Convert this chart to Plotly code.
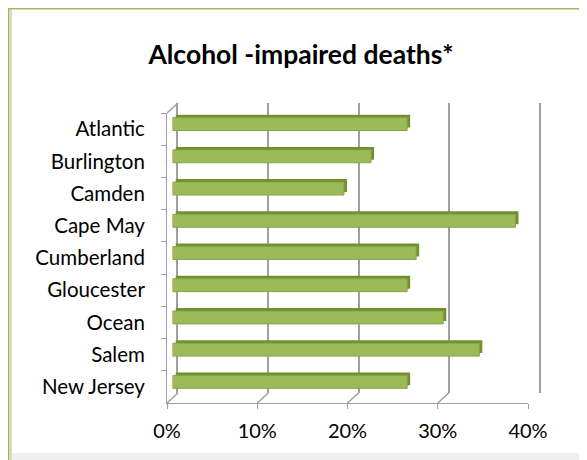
import plotly.graph_objects as go

categories = ["Atlantic", "Burlington", "Camden", "Cape May", "Cumberland",
              "Gloucester", "Ocean", "Salem", "New Jersey"]
values = [0.26, 0.22, 0.19, 0.38, 0.27, 0.26, 0.30, 0.34, 0.26]
tick_vals = [0, 0.1, 0.2, 0.3, 0.4]
tick_text = ["0%", "10%", "20%", "30%", "40%"]
title_text = "<b>Alcohol -impaired deaths*</b>"

OFF = 8  # page body margin
W, H = 587 - OFF, 460 - OFF
ml, mr, mt, mb = 167 - OFF, 40, 103 - OFF, 57
pw = W - ml - mr
ph = H - mt - mb
front_w, front_h = 361, 290
dx, dy = 11, 10
sd = 3  # bar side depth in px
x_max = 0.4

FONT = "Lato"
GREEN = "#9BBB59"
GREEN_DARK = "#71902F"
GRID = "#a0a0a0"


def px_x(p):
    return (p - OFF - ml) / pw


def px_y(p):
    return 1 - (p - OFF - mt) / ph


fig = go.Figure()

# back wall (gridlines) - invisible helper trace
fig.add_trace(go.Bar(x=values, y=categories, orientation="h", xaxis="x2", yaxis="y2",
                     opacity=0, hoverinfo="skip", showlegend=False))
# bar depth (side/top faces) - drawn below the front faces
fig.add_trace(go.Bar(x=values, y=categories, orientation="h", xaxis="x3", yaxis="y3",
                     width=0.4, marker=dict(color=GREEN_DARK, line=dict(width=0)),
                     hoverinfo="skip", showlegend=False))
# bars (front faces)
fig.add_trace(go.Bar(x=values, y=categories, orientation="h", xaxis="x4", yaxis="y4",
                     width=0.4,
                     marker=dict(color=GREEN, line=dict(color="#86A448", width=1)),
                     showlegend=False))
# front axes helper
fig.add_trace(go.Bar(x=values, y=categories, orientation="h", xaxis="x", yaxis="y",
                     opacity=0, hoverinfo="skip", showlegend=False))

common_x = dict(range=[0, x_max], tickvals=tick_vals, zeroline=False, fixedrange=True,
                automargin=False)
hidden_x = dict(**common_x, showgrid=False, showticklabels=False, ticks="", showline=False)
cat_y = dict(categoryorder="array", categoryarray=categories, autorange="reversed",
             automargin=False)
hidden_y = dict(**cat_y, showgrid=False, showticklabels=False, ticks="", showline=False)

fx, fy = dx / 2, dy / 2  # front face of bars at mid depth
dx_data = dx * x_max / front_w

# floor/wall connectors from front axis to back wall
shapes = []
for t in tick_vals:
    shapes.append(dict(type="line", xref="x", yref="paper", x0=t, x1=t + dx_data,
                       y0=0, y1=dy / ph, line=dict(color=GRID, width=1.5)))
shapes.append(dict(type="line", xref="x", yref="paper", x0=0, x1=dx_data,
                   y0=front_h / ph, y1=1, line=dict(color=GRID, width=1.5)))
shapes += [
    # green border top and left
    dict(type="line", xref="paper", yref="paper", x0=px_x(8), x1=px_x(600),
         y0=px_y(8.5), y1=px_y(8.5), line=dict(color=GREEN, width=2)),
    dict(type="line", xref="paper", yref="paper", x0=px_x(8.5), x1=px_x(8.5),
         y0=px_y(8), y1=px_y(470), line=dict(color=GREEN, width=2)),
    # inner shadow on left
    dict(type="line", xref="paper", yref="paper", x0=px_x(11), x1=px_x(11),
         y0=px_y(10), y1=px_y(470), line=dict(color="#d8d8d8", width=2)),
    # bottom light band
    dict(type="rect", xref="paper", yref="paper", x0=px_x(10), x1=px_x(600),
         y0=px_y(453), y1=px_y(470), fillcolor="#efefef", line=dict(width=0),
         layer="below"),
]

fig.update_layout(
    width=W, height=H,
    margin=dict(l=ml, r=mr, t=mt, b=mb, autoexpand=False),
    paper_bgcolor="white", plot_bgcolor="rgba(0,0,0,0)",
    font=dict(family=FONT, color="black"),
    title=dict(text=title_text, x=(301 - OFF) / W, xanchor="center", y=1 - 47 / H,
               yanchor="middle", font=dict(family=FONT, size=26.5, color="black")),
    xaxis=dict(**common_x, domain=[0, front_w / pw], anchor="y", showgrid=False,
               showline=True, linecolor=GRID, linewidth=1,
               ticktext=tick_text, ticks="outside", ticklen=5, tickcolor=GRID,
               tickfont=dict(size=20, family=FONT), ticklabelstandoff=5),
    yaxis=dict(**cat_y, domain=[0, front_h / ph], anchor="x",
               showline=True, linecolor=GRID, linewidth=1, ticks="outside",
               tickson="boundaries", ticklen=5, tickcolor=GRID, showgrid=False,
               tickfont=dict(size=20.5, family=FONT), ticklabelstandoff=17),
    xaxis2=dict(**common_x, domain=[dx / pw, (front_w + dx) / pw], anchor="y2",
                showgrid=True, gridcolor=GRID, gridwidth=2, showticklabels=False,
                ticks="", showline=False),
    yaxis2=dict(**cat_y, domain=[dy / ph, 1], anchor="x2", showgrid=False,
                showticklabels=False, ticks="", showline=True, mirror=True,
                linecolor=GRID, linewidth=2),
    xaxis3=dict(**hidden_x, domain=[(fx + sd) / pw, (front_w + fx + sd) / pw], anchor="y3"),
    yaxis3=dict(**hidden_y, domain=[(fy + sd) / ph, (front_h + fy + sd) / ph], anchor="x3"),
    xaxis4=dict(**hidden_x, domain=[fx / pw, (front_w + fx) / pw], anchor="y4"),
    yaxis4=dict(**hidden_y, domain=[fy / ph, (front_h + fy) / ph], anchor="x4"),
    shapes=shapes,
)

fig.write_html("out.html")
